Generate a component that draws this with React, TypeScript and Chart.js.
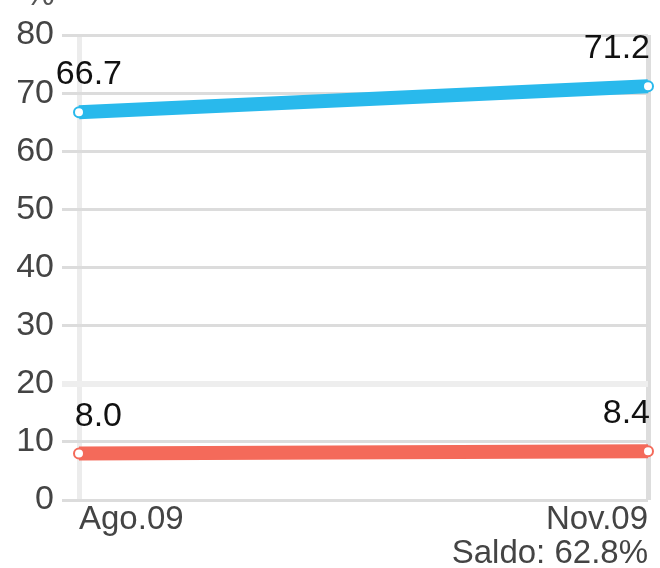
import React, { useEffect, useRef } from 'react';
import { Chart, registerables } from 'chart.js';

Chart.register(...registerables);

const categories: (string | string[])[] = ['Ago.09', ['Nov.09', 'Saldo: 62.8%']];
const seriesBlue = [66.7, 71.2];
const seriesRed = [8.0, 8.4];
const yMin = 0;
const yMax = 80;
const yStep = 10;
const unitLabel = '%';

const FONT = '"Liberation Sans", Arial, sans-serif';

const valueLabels = {
  id: 'valueLabels',
  afterDatasetsDraw(chart: any) {
    const ctx = chart.ctx;
    ctx.save();
    ctx.font = `34px ${FONT}`;
    ctx.fillStyle = '#111111';
    ctx.textBaseline = 'alphabetic';
    ctx.textAlign = 'right';
    chart.data.datasets.forEach((ds: any, di: number) => {
      const meta = chart.getDatasetMeta(di);
      meta.data.forEach((pt: any, i: number) => {
        const v = ds.data[i] as number;
        const last = i === meta.data.length - 1;
        const x = last ? pt.x + 2 : pt.x + 43;
        ctx.fillText(v.toFixed(1), x, pt.y - 28);
      });
    });
    ctx.restore();
  },
};

const unitPlugin = {
  id: 'unitPlugin',
  afterDraw(chart: any) {
    const ctx = chart.ctx;
    ctx.save();
    ctx.font = `33px ${FONT}`;
    ctx.fillStyle = '#555555';
    ctx.textAlign = 'center';
    ctx.textBaseline = 'alphabetic';
    ctx.fillText(unitLabel, 40, 5);
    ctx.restore();
  },
};

export default function App() {
  const ref = useRef<HTMLCanvasElement | null>(null);

  useEffect(() => {
    if (!ref.current) return;
    const chart = new Chart(ref.current, {
      type: 'line',
      data: {
        labels: categories,
        datasets: [
          {
            data: seriesBlue,
            borderColor: '#29b9ec',
            backgroundColor: '#29b9ec',
            borderWidth: 14,
            pointRadius: 5,
            pointBorderWidth: 2,
            pointBackgroundColor: '#ffffff',
            pointBorderColor: '#29b9ec',
            fill: false,
            tension: 0,
            clip: false as any,
          },
          {
            data: seriesRed,
            borderColor: '#f46a5a',
            backgroundColor: '#f46a5a',
            borderWidth: 14,
            pointRadius: 5,
            pointBorderWidth: 2,
            pointBackgroundColor: '#ffffff',
            pointBorderColor: '#f46a5a',
            fill: false,
            tension: 0,
            clip: false as any,
          },
        ],
      },
      options: {
        responsive: false,
        animation: false,
        devicePixelRatio: 1,
        layout: { padding: { top: 35, right: 12, left: 0, bottom: 0 } },
        plugins: {
          legend: { display: false },
          tooltip: { enabled: false },
          title: { display: false },
        },
        scales: {
          x: {
            offset: false,
            border: { display: false },
            grid: {
              drawTicks: false,
              color: (c: any) => (c.index === 0 ? '#ececec' : '#dddddd'),
              lineWidth: 5,
            },
            ticks: {
              align: 'inner',
              maxRotation: 0,
              autoSkip: false,
              padding: 3,
              color: '#444444',
              font: { family: FONT, size: 33, lineHeight: 1.03 },
            },
            afterFit: (s: any) => {
              s.height = 68;
            },
          },
          y: {
            min: yMin,
            max: yMax,
            border: { display: false },
            grid: {
              drawTicks: true,
              tickLength: 17,
              color: (c: any) => (c.tick && c.tick.value === 20 ? '#eeeeee' : '#dcdcdc'),
              lineWidth: (c: any) => (c.tick && c.tick.value === 20 ? 6 : 3),
            },
            ticks: {
              stepSize: yStep,
              padding: 8,
              color: '#444444',
              font: { family: FONT, size: 34 },
            },
            afterFit: (s: any) => {
              s.width = 79;
            },
          },
        },
      },
      plugins: [valueLabels, unitPlugin],
    });
    return () => chart.destroy();
  }, []);

  return (
    <div style={{ position: 'absolute', left: 0, top: 0, width: 660, height: 568, background: '#ffffff' }}>
      <canvas ref={ref} width={660} height={568} style={{ display: 'block', width: 660, height: 568 }} />
    </div>
  );
}
